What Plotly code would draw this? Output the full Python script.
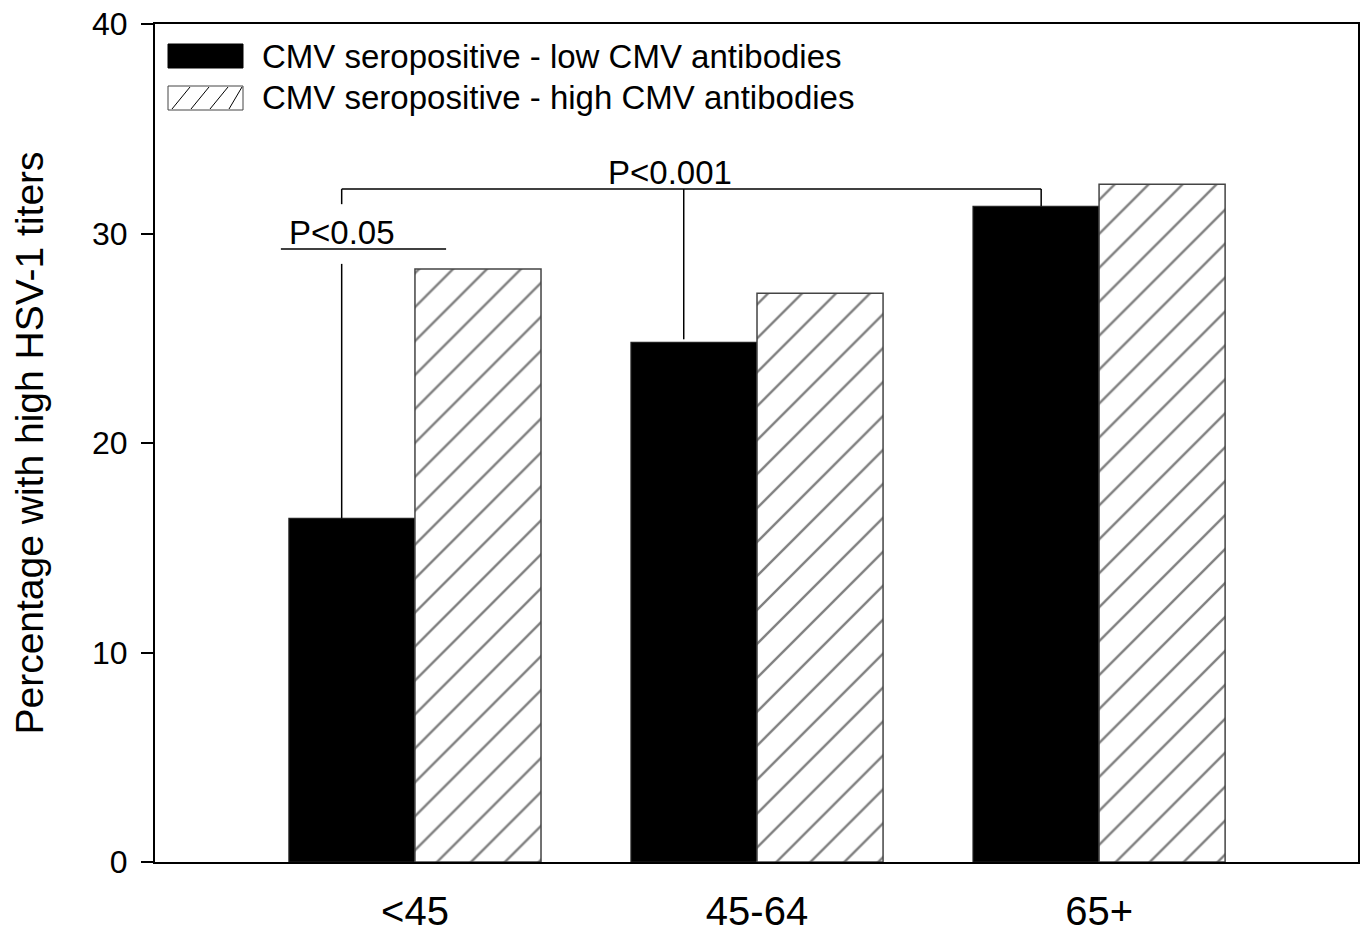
import plotly.graph_objects as go

categories = ["<45", "45-64", "65+"]
low_cmv = [16.4, 24.8, 31.3]
high_cmv = [28.3, 27.15, 32.35]
series_names = ["CMV seropositive - low CMV antibodies",
                "CMV seropositive - high CMV antibodies"]
y_ticks = [0, 10, 20, 30, 40]
y_title = "Percentage with high HSV-1 titers"

FONT = "Liberation Sans, Arial, sans-serif"
xpos = list(range(len(categories)))

fig = go.Figure()
fig.add_trace(go.Bar(
    x=xpos, y=low_cmv, name=series_names[0], showlegend=False,
    marker=dict(color="black", line=dict(color="#222", width=1.2)),
))
fig.add_trace(go.Bar(
    x=xpos, y=high_cmv, name=series_names[1], showlegend=False,
    marker=dict(color="white", line=dict(color="#444", width=1.5),
                pattern=dict(shape="/", fgcolor="black", bgcolor="white",
                             size=24, solidity=0.1)),
))

bw = (1 - 0.263) / 2
off = -bw / 2 - 0.03  # stems sit a bit left of the black-bar centres

shapes = []
line = dict(color="black", width=1.5)
# P<0.05 bracket
y05 = 29.26
shapes.append(dict(type="line", xref="x", yref="y", x0=-0.392, x1=0.091, y0=y05, y1=y05, line=line))
shapes.append(dict(type="line", xref="x", yref="y", x0=0 + off, x1=0 + off, y0=28.55, y1=low_cmv[0], line=line))
# P<0.001 bracket
y001 = 32.12
shapes.append(dict(type="line", xref="x", yref="y", x0=0 + off, x1=2 + off + 0.045, y0=y001, y1=y001, line=line))
shapes.append(dict(type="line", xref="x", yref="y", x0=0 + off, x1=0 + off, y0=y001, y1=31.4, line=line))
shapes.append(dict(type="line", xref="x", yref="y", x0=1 + off, x1=1 + off, y0=y001, y1=low_cmv[1] + 0.15, line=line))
shapes.append(dict(type="line", xref="x", yref="y", x0=2 + off + 0.045, x1=2 + off + 0.045, y0=y001, y1=low_cmv[2], line=line))

# manual legend (paper coords)
def px2x(p):
    return (p - 155) / 1203

def py2y(p):
    return (862 - p) / 838

lx0, lx1 = px2x(168), px2x(243)
shapes.append(dict(type="rect", xref="paper", yref="paper", x0=lx0, x1=lx1,
                   y0=py2y(68), y1=py2y(44), fillcolor="black", line=dict(color="black", width=1)))
shapes.append(dict(type="rect", xref="paper", yref="paper", x0=lx0, x1=lx1,
                   y0=py2y(110), y1=py2y(86), fillcolor="white", line=dict(color="#444", width=1)))
for i in range(4):
    xa = 168 + 4 + i * 19
    xb = xa + 18
    shapes.append(dict(type="line", xref="paper", yref="paper",
                       x0=px2x(xa), y0=py2y(109), x1=px2x(min(xb, 242)), y1=py2y(87),
                       line=dict(color="black", width=1)))

annotations = [
    dict(text="P<0.05", x=0 + off, y=y05, xref="x", yref="y", xanchor="center", yanchor="bottom",
         showarrow=False, font=dict(family=FONT, size=33, color="black"), yshift=-4),
    dict(text="P<0.001", x=1 + off - 0.04, y=y001, xref="x", yref="y", xanchor="center", yanchor="bottom",
         showarrow=False, font=dict(family=FONT, size=33, color="black"), yshift=-4),
    dict(text=series_names[0], x=px2x(260), y=py2y(56), xref="paper", yref="paper",
         xanchor="left", yanchor="middle", showarrow=False,
         font=dict(family=FONT, size=33, color="black")),
    dict(text=series_names[1], x=px2x(260), y=py2y(98), xref="paper", yref="paper",
         xanchor="left", yanchor="middle", showarrow=False,
         font=dict(family=FONT, size=33, color="black")),
]

fig.update_layout(
    width=1363, height=935,
    margin=dict(l=155, r=5, t=24, b=73, pad=0),
    paper_bgcolor="white", plot_bgcolor="white",
    barmode="group", bargap=0.263, bargroupgap=0,
    font=dict(family=FONT, color="black"),
    shapes=shapes, annotations=annotations,
    xaxis=dict(range=[-0.76, 2.757], tickvals=xpos, ticktext=categories,
               showgrid=False, zeroline=False, showline=True, mirror=True,
               linecolor="black", linewidth=2, ticks="outside", ticklen=1,
               tickcolor="rgba(0,0,0,0)", ticklabelstandoff=12, automargin=False,
               tickfont=dict(family=FONT, size=40, color="black")),
    yaxis=dict(range=[0, 40], tickvals=y_ticks, showgrid=False, zeroline=False,
               showline=True, mirror=True, linecolor="black", linewidth=2,
               ticks="outside", ticklen=12, tickwidth=2, tickcolor="black",
               ticklabelstandoff=7, automargin=False,
               tickfont=dict(family=FONT, size=32, color="black"),
               title=dict(text=y_title, standoff=36,
                          font=dict(family=FONT, size=39, color="black"))),
)

fig.write_html("out.html")
